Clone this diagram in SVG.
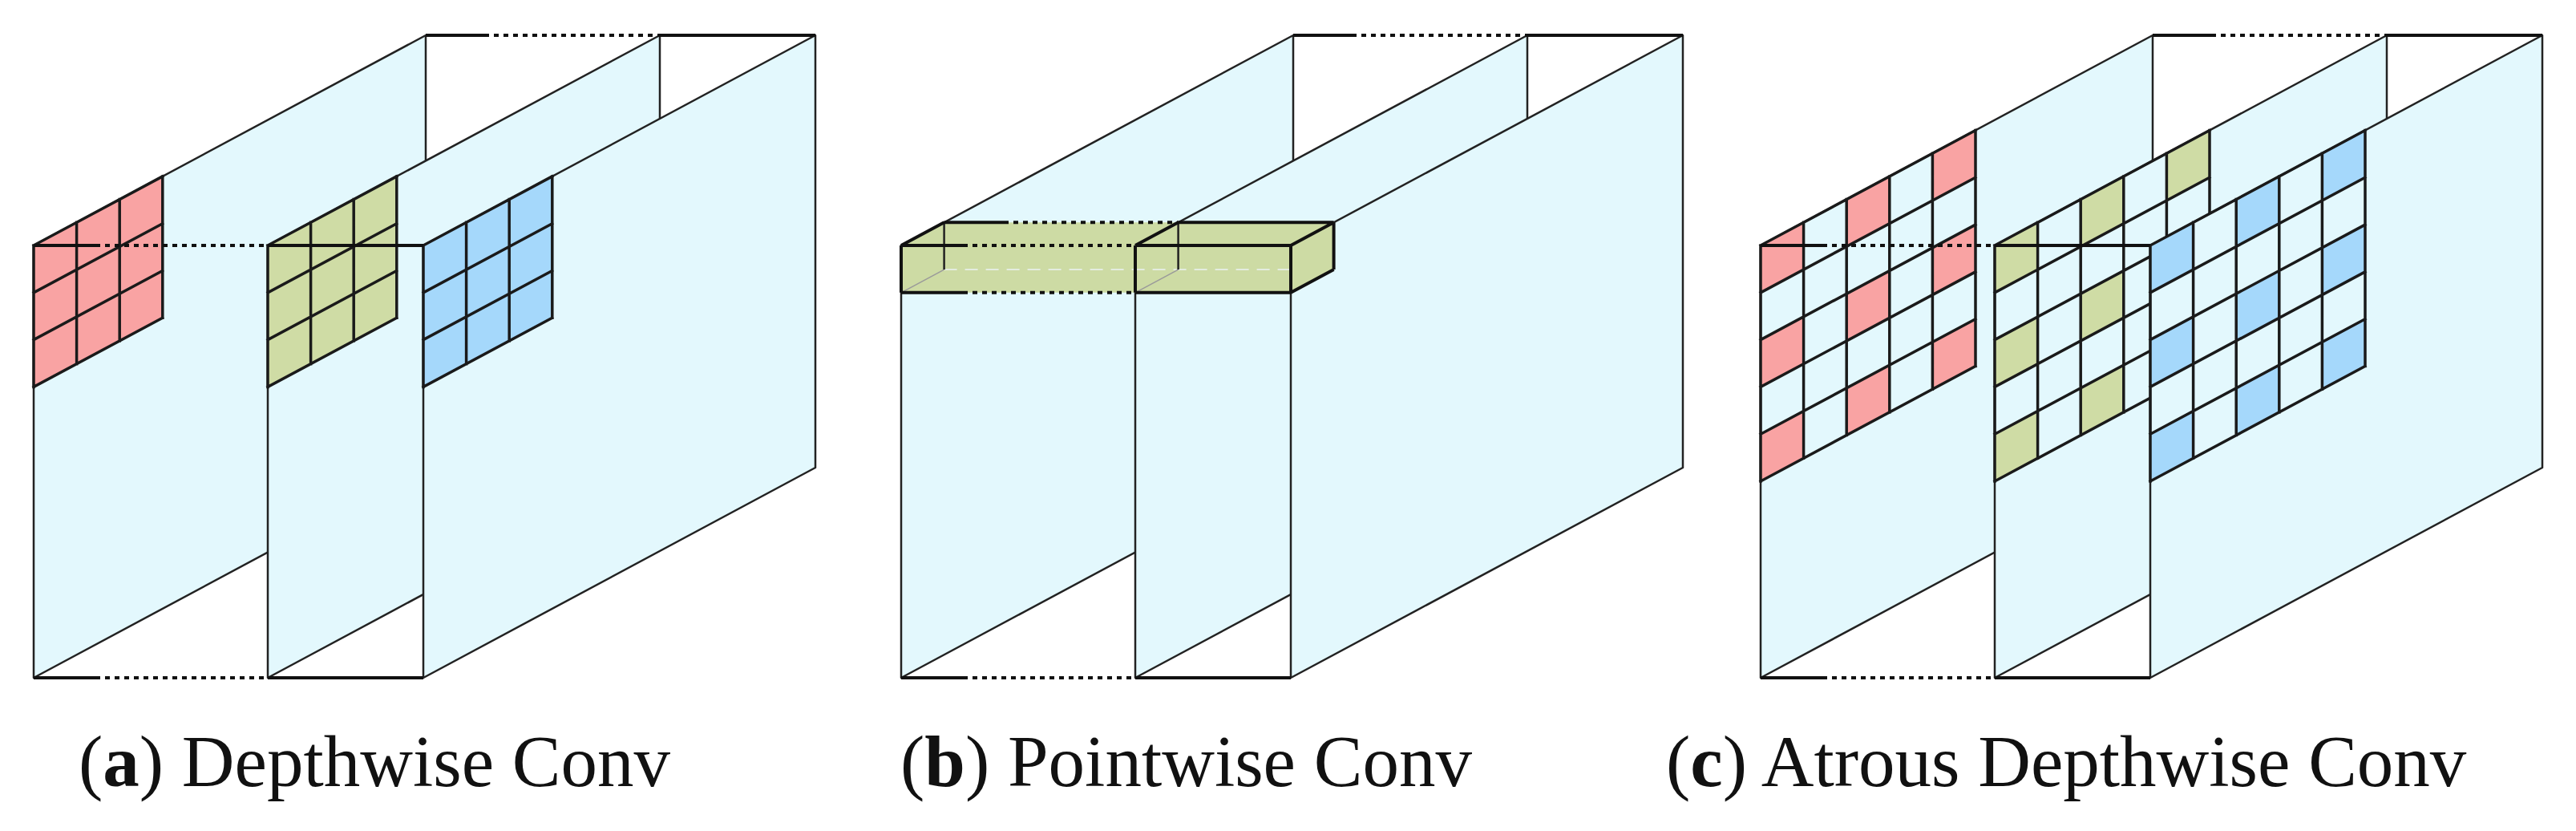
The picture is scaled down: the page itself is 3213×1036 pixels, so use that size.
<svg xmlns="http://www.w3.org/2000/svg" xmlns:xlink="http://www.w3.org/1999/xlink" width="3213" height="1036" viewBox="0 0 3213 1036">
<style>
.pl{fill:#e3f8fd;stroke:#222;stroke-width:2.5;stroke-linejoin:round}
.ln{fill:none;stroke:#111;stroke-width:4}
.dt{fill:none;stroke:#111;stroke-width:4;stroke-dasharray:6 6}
.gr{fill:none;stroke:#1a1a1a;stroke-width:3.5;stroke-linecap:square}
.tx{font-family:"Liberation Serif",serif;font-size:91px;fill:#111}
</style>
<defs>
<path id="plane" class="pl" d="M0,0 L489,-262 L489,277 L0,539 Z"/>
<g id="frame">
<path class="ln" d="M489,-262 H562 M781,-262 H975 M0,0 H77 M292,0 H486 M0,539 H77 M292,539 H486"/>
<path class="dt" d="M562,-262 H781 M77,0 H292 M77,539 H292"/>
</g>
<path id="cell" d="M0,0 l53.6,-28.7 v58.8 l-53.6,28.7 z"/>
<g id="g3">
<path d="M0,0 l160.8,-86.1 v176.4 l-160.8,86.1 z"/>
<path class="gr" d="M0,0 l160.8,-86.1 M0,58.8 l160.8,-86.1 M0,117.6 l160.8,-86.1 M0,176.4 l160.8,-86.1 M0,0 v176.4 M53.6,-28.7 v176.4 M107.2,-57.4 v176.4 M160.8,-86.1 v176.4"/>
</g>
<g id="hl5">
<use xlink:href="#cell" x="0" y="0"/><use xlink:href="#cell" x="0" y="117.6"/><use xlink:href="#cell" x="0" y="235.2"/>
<use xlink:href="#cell" x="107.2" y="-57.4"/><use xlink:href="#cell" x="107.2" y="60.2"/><use xlink:href="#cell" x="107.2" y="177.8"/>
<use xlink:href="#cell" x="214.4" y="-114.8"/><use xlink:href="#cell" x="214.4" y="2.8"/><use xlink:href="#cell" x="214.4" y="120.4"/>
</g>
<path id="gl5" class="gr" d="M0,0 l268,-143.5 M0,58.8 l268,-143.5 M0,117.6 l268,-143.5 M0,176.4 l268,-143.5 M0,235.2 l268,-143.5 M0,294 l268,-143.5 M0,0 v294 M53.6,-28.7 v294 M107.2,-57.4 v294 M160.8,-86.1 v294 M214.4,-114.8 v294 M268,-143.5 v294"/>
</defs>

<g id="panel-a" transform="translate(42,306)">
<path class="ln" d="M489,-262 H562 M781,-262 H975"/><path class="dt" d="M562,-262 H781"/>
<g id="a-plane1"><use xlink:href="#plane"/><use xlink:href="#g3" fill="#f9a3a3"/></g>
<g id="a-plane2" transform="translate(292,0)"><use xlink:href="#plane"/><use xlink:href="#g3" fill="#cfdca5"/></g>
<g id="a-plane3" transform="translate(486,0)"><use xlink:href="#plane"/><use xlink:href="#g3" fill="#a5d8fb"/></g>
<g id="a-connectors"><use xlink:href="#frame"/></g>
</g>

<g id="panel-b" transform="translate(1124,306)">
<path class="ln" d="M489,-262 H562 M781,-262 H975"/><path class="dt" d="M562,-262 H781"/>
<g id="b-plane1"><use xlink:href="#plane"/></g>
<g id="b-plane2" transform="translate(292,0)"><use xlink:href="#plane"/></g>
<g id="b-plane3" transform="translate(486,0)"><use xlink:href="#plane"/></g>
<g id="b-box">
<path d="M0,0 L53.6,-28.7 L539.6,-28.7 L539.6,30.1 L486,58.8 L0,58.8 Z" fill="#cbd99f" fill-opacity="0.95"/>
<path d="M53.6,30.1 H486" fill="none" stroke="#e4ece0" stroke-width="2" stroke-dasharray="16 10"/>
<path d="M0,58.8 l53.6,-28.7 M292,58.8 l53.6,-28.7" fill="none" stroke="#9a9a9a" stroke-width="1.5"/>
<path d="M53.6,-28.7 v58.8 M345.6,-28.7 v58.8" fill="none" stroke="#222" stroke-width="2.5"/>
<path class="ln" d="M53.6,-28.7 H128 M345.6,-28.7 H539.6 M0,0 l53.6,-28.7 M292,0 l53.6,-28.7 M486,0 l53.6,-28.7 M486,58.8 l53.6,-28.7 M486,0 v58.8 M539.6,-28.7 v58.8 M0,0 v58.8 M292,0 v58.8 M0,58.8 H77 M292,58.8 H486"/>
<path class="dt" d="M128,-28.7 H345.6 M77,58.8 H292"/>
</g>
<g id="b-connectors"><use xlink:href="#frame"/></g>
</g>

<g id="panel-c" transform="translate(2196,306)">
<path class="ln" d="M489,-262 H562 M781,-262 H975"/><path class="dt" d="M562,-262 H781"/>
<g id="c-plane1"><use xlink:href="#plane"/><use xlink:href="#hl5" fill="#f9a3a3"/><use xlink:href="#gl5"/></g>
<g id="c-plane2" transform="translate(292,0)"><use xlink:href="#plane"/><use xlink:href="#hl5" fill="#cfdca5"/><use xlink:href="#gl5"/></g>
<g id="c-plane3" transform="translate(486,0)"><use xlink:href="#plane"/><use xlink:href="#hl5" fill="#a5d8fb"/><use xlink:href="#gl5"/></g>
<g id="c-connectors"><use xlink:href="#frame"/></g>
</g>

<g id="captions">
<text class="tx" x="98" y="980">(<tspan font-weight="bold">a</tspan>) Depthwise Conv</text>
<text class="tx" x="1123" y="980">(<tspan font-weight="bold">b</tspan>) Pointwise Conv</text>
<text class="tx" x="2078" y="980">(<tspan font-weight="bold">c</tspan>) Atrous Depthwise Conv</text>
</g>
</svg>
